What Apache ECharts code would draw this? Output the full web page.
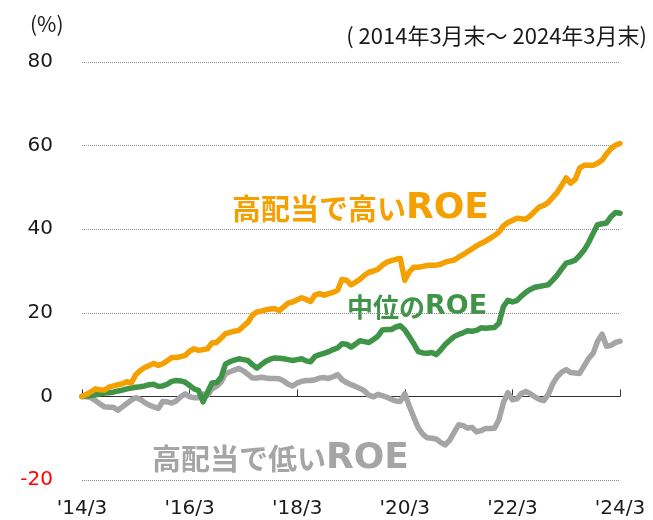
<!DOCTYPE html>
<html>
<head>
<meta charset="utf-8">
<script src="https://cdn.jsdelivr.net/npm/echarts@6/dist/echarts.min.js"></script>
<style>
  html, body { margin: 0; padding: 0; background: #fff; }
  #chart { width: 653px; height: 520px; }
</style>
</head>
<body>
<div id="chart"></div>
<script>
// 月次: 2014/3 〜 2024/3 (121点)
const startYear = 2014;
const months = [];
for (let i = 0; i <= 120; i++) {
  const total = 2 + i; // 3月 = index 2
  const y = startYear + Math.floor(total / 12);
  const m = (total % 12) + 1;
  months.push("'" + String(y).slice(2) + '/' + m);
}

// 累積リターン (%)
const highRoe = [
  0, 0.5, 1.1, 1.8, 1.6, 1.5, 2.2, 2.5, 2.8, 3.0, 3.5, 3.2,
  5.2, 6.2, 6.9, 7.4, 7.9, 7.4, 7.8, 8.5, 9.3, 9.3, 9.5, 9.8,
  10.8, 11.4, 11.0, 11.2, 11.4, 12.8, 12.9, 13.9, 15.0, 15.3, 15.6, 15.8,
  16.8, 17.7, 19.4, 20.2, 20.4, 20.7, 20.9, 21.0, 20.5, 21.4, 22.3, 22.6,
  23.1, 23.6, 23.2, 22.7, 24.3, 24.6, 24.2, 24.6, 24.9, 25.4, 28.0, 27.8,
  26.7, 27.3, 28.0, 29.0, 29.7, 30.0, 30.4, 31.4, 32.1, 32.5, 32.8, 33.0,
  27.8, 29.8, 30.9, 30.9, 31.1, 31.3, 31.4, 31.4, 31.6, 32.1, 32.4, 32.6,
  33.3, 33.9, 34.6, 35.3, 36.0, 36.6, 37.1, 37.8, 38.5, 39.3, 40.8, 41.6,
  42.1, 42.6, 42.5, 42.4, 43.2, 44.3, 45.3, 45.7, 46.4, 47.6, 48.8, 50.5,
  52.3, 51.0, 51.9, 54.6, 55.3, 55.3, 55.3, 55.8, 56.5, 58.0, 59.3, 60.1,
  60.5
];
const midRoe = [
  0, 0.1, 0.2, 0.4, 0.6, 0.8, 0.9, 1.0, 1.3, 1.5, 1.8, 2.0,
  2.2, 2.3, 2.5, 2.8, 2.9, 2.4, 2.5, 2.9, 3.6, 3.8, 3.7, 3.4,
  2.6, 1.8, 1.4, -1.3, 1.0, 3.2, 3.3, 4.5, 7.7, 8.3, 8.7, 9.0,
  8.8, 8.6, 7.6, 6.8, 7.6, 8.4, 8.9, 9.2, 9.1, 9.0, 8.8, 8.6,
  8.8, 9.0, 8.5, 8.3, 9.6, 10.0, 10.3, 10.7, 11.2, 11.6, 12.6, 12.5,
  11.8, 12.5, 13.3, 13.1, 12.9, 13.6, 14.4, 15.9, 16.0, 16.0, 16.6, 16.9,
  15.9, 14.3, 12.6, 10.7, 10.4, 10.3, 10.5, 10.0, 11.1, 12.4, 13.4, 14.3,
  14.8, 15.2, 15.7, 15.6, 15.8, 16.4, 16.3, 16.4, 16.5, 17.5, 21.5, 23.0,
  22.6, 22.9, 24.0, 24.9, 25.6, 26.1, 26.3, 26.5, 26.7, 27.8, 29.0, 30.5,
  31.9, 32.2, 32.6, 33.7, 35.0, 36.8, 39.0, 41.1, 41.3, 41.5, 43.0, 44.0,
  43.8
];
const lowRoe = [
  0, -0.1, -0.3, -1.0, -1.8, -2.5, -2.6, -2.6, -3.3, -2.5, -1.7, -0.9,
  -0.3, -0.7, -1.5, -2.1, -2.5, -2.9, -1.2, -1.3, -1.6, -1.1, -0.1, 0.6,
  -0.1, -0.3, -0.3, 0.6, 0.3, 1.8, 2.4, 3.4, 5.4, 5.9, 6.3, 6.7,
  6.1, 5.3, 4.4, 4.4, 4.6, 4.4, 4.3, 4.3, 4.2, 3.7, 2.9, 2.5,
  3.2, 3.6, 3.8, 3.8, 4.0, 4.4, 4.5, 4.3, 4.7, 5.2, 4.0, 3.3,
  2.8, 2.4, 1.9, 1.3, 0.3, -0.1, 0.5, 0.2, -0.2, -0.7, -1.1, -1.2,
  0.6, -2.3, -5.0, -7.5, -9.0, -9.9, -10.0, -10.2, -11.0, -11.6, -10.5, -8.6,
  -6.8, -7.0, -7.6, -7.4, -8.5, -8.2, -7.7, -7.7, -7.6, -5.5, -1.5, 0.9,
  -0.8, -0.6, 0.7, 1.2, 0.6, -0.1, -0.7, -1.0, 0.5, 3.0, 4.7, 5.8,
  6.4, 5.7, 5.6, 5.5, 7.3, 9.1, 10.3, 13.2, 14.9, 12.0, 12.2, 12.9,
  13.2
];

const FONT = '"Noto Sans CJK JP", "Noto Sans", sans-serif';
const LATIN = '"DejaVu Sans", sans-serif';
const ORANGE = '#F4A000';
const GREEN = '#3F9448';
const GRAY = '#A5A5A5';

const chart = echarts.init(document.getElementById('chart'));

// 系列の共通設定
const lineSeries = (name, data, color) => ({
  name: name,
  type: 'line',
  data: data,
  xAxisIndex: 0,
  showSymbol: false,
  symbol: 'none',
  smooth: false,
  lineStyle: { color: color, width: 5.5, cap: 'round', join: 'round' },
  itemStyle: { color: color },
  animation: false
});

// 系列名ラベル (和文 + ROE)
const seriesLabel = (x, y, jp, color, jpSize, roeSize) => ({
  type: 'text',
  x: x,
  y: y,
  style: {
    text: '{a|' + jp + '}{b|ROE}',
    fill: color,
    verticalAlign: 'middle',
    rich: {
      a: { fontFamily: FONT, fontWeight: 'bold', fontSize: jpSize, fill: color, color: color },
      b: { fontFamily: LATIN, fontWeight: 'bold', fontSize: roeSize, fill: color, color: color }
    }
  }
});

chart.setOption({
  animation: false,
  textStyle: { fontFamily: FONT },
  grid: { left: 82, right: 33, top: 62, bottom: 40, containLabel: false },
  xAxis: [
    {
      type: 'category',
      data: months,
      boundaryGap: false,
      position: 'bottom',
      axisLine: { show: false, onZero: false },
      axisTick: { show: false },
      axisLabel: {
        interval: 23,
        margin: 19,
        fontSize: 20,
        color: '#1a1a1a',
        fontFamily: LATIN
      },
      splitLine: { show: false }
    },
    {
      type: 'category',
      data: months,
      boundaryGap: false,
      position: 'bottom',
      axisLine: { show: true, onZero: true, lineStyle: { color: '#333', width: 1 } },
      axisTick: { show: true, inside: true, length: 7, interval: 23, lineStyle: { color: '#333' } },
      axisLabel: { show: false },
      splitLine: { show: false }
    }
  ],
  yAxis: {
    type: 'value',
    min: -20,
    max: 80,
    interval: 20,
    axisLine: { show: false },
    axisTick: { show: false },
    axisLabel: {
      margin: 29,
      fontSize: 20,
      fontFamily: LATIN,
      color: function (v) { return v < 0 ? '#FF0000' : '#1a1a1a'; }
    },
    splitLine: { lineStyle: { color: '#8c8c8c', type: [1, 1], width: 1 } }
  },
  series: [
    lineSeries('高配当で低いROE', lowRoe, GRAY),
    lineSeries('中位のROE', midRoe, GREEN),
    lineSeries('高配当で高いROE', highRoe, ORANGE)
  ],
  graphic: [
    { type: 'text', left: 30, top: 14, style: { text: '(%)', font: '21px ' + FONT, fill: '#1a1a1a' } },
    { type: 'text', right: 6, top: 25, style: { text: '( 2014年3月末～ 2024年3月末)', font: '22px ' + FONT, fill: '#1a1a1a' } },
    seriesLabel(232, 209, '高配当で高い', ORANGE, 29, 36),
    seriesLabel(347, 307, '中位の', GREEN, 26, 27),
    seriesLabel(152, 459, '高配当で低い', GRAY, 29, 36)
  ]
});
</script>
</body>
</html>
